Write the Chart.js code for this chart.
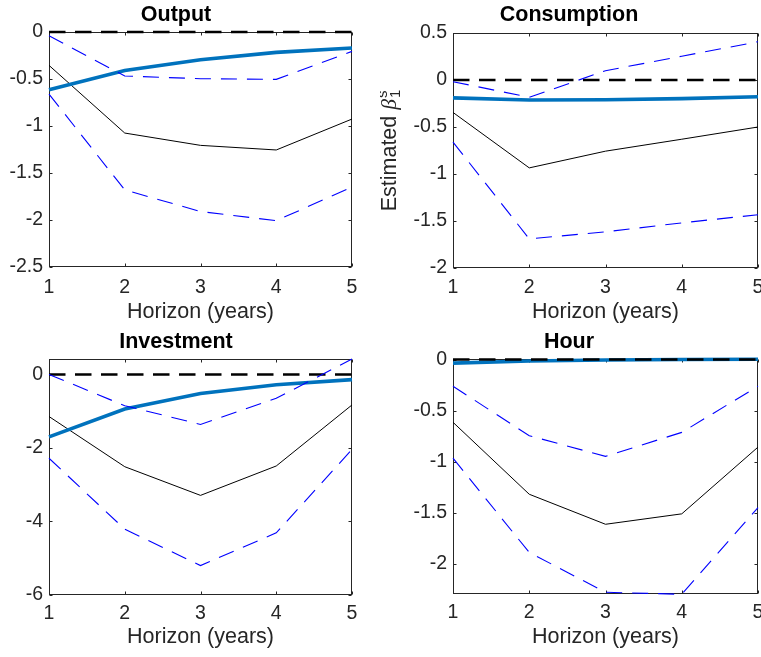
<!DOCTYPE html>
<html>
<head>
<meta charset="utf-8">
<script src="https://cdn.jsdelivr.net/npm/chart.js@4.4.1/dist/chart.umd.min.js"></script>
<style>
  html, body { margin: 0; padding: 0; background: #ffffff; }
  body { position: relative; width: 761px; height: 657px; overflow: hidden; }
  canvas { position: absolute; }
</style>
</head>
<body>
<canvas id="cOutput"></canvas>
<canvas id="cConsumption"></canvas>
<canvas id="cInvestment"></canvas>
<canvas id="cHour"></canvas>
<script>
// Horizon in years (x axis) and the zero reference line
const horizons = [1, 2, 3, 4, 5];
const zeroLine = [0, 0, 0, 0, 0];

// Output
const outputEstimate = [-0.355, -1.075, -1.206, -1.255, -0.926];
const outputUpper    = [-0.04, -0.468, -0.497, -0.504, -0.206];
const outputLower    = [-0.66, -1.68, -1.91, -2.007, -1.65];
const outputModel    = [-0.614, -0.41, -0.295, -0.217, -0.17];
const outputTicks    = [-2.5, -2, -1.5, -1, -0.5, 0];

// Consumption
const consumptionEstimate = [-0.345, -0.935, -0.757, -0.63, -0.50];
const consumptionUpper    = [-0.018, -0.184, 0.099, 0.253, 0.407];
const consumptionLower    = [-0.66, -1.69, -1.615, -1.52, -1.433];
const consumptionModel    = [-0.19, -0.213, -0.21, -0.198, -0.178];
const consumptionTicks    = [-2, -1.5, -1, -0.5, 0, 0.5];

// Investment
const investmentEstimate = [-1.145, -2.51, -3.29, -2.49, -0.83];
const investmentUpper    = [0.0, -0.85, -1.36, -0.65, 0.42];
const investmentLower    = [-2.28, -4.21, -5.2, -4.31, -2.04];
const investmentModel    = [-1.70, -0.94, -0.52, -0.28, -0.14];
const investmentTicks    = [-6, -4, -2, 0];

// Hour
const hourEstimate = [-0.615, -1.32, -1.614, -1.512, -0.858];
const hourUpper    = [-0.262, -0.746, -0.949, -0.714, -0.262];
const hourLower    = [-0.966, -1.89, -2.28, -2.30, -1.45];
const hourModel    = [-0.035, -0.015, -0.005, 0.0, 0.003];
const hourTicks    = [-2, -1.5, -1, -0.5, 0];

const TICK_FONT = { family: '"Liberation Sans", Arial, sans-serif', size: 19.5 };
const LABEL_FONT = { family: '"Liberation Sans", Arial, sans-serif', size: 21.5 };
const TITLE_FONT = { family: '"Liberation Sans", Arial, sans-serif', size: 21.5, weight: 'bold' };
const AXIS_COLOR = '#262626';

const toPoints = (ys) => horizons.map((h, i) => ({ x: h, y: ys[i] }));
const fmt = (v) => {
  const r = Math.round(v * 10) / 10;
  return (Object.is(r, -0) ? 0 : r).toString();
};

// Axes box with inward tick marks on all four sides
const axesFrame = {
  id: 'axesFrame',
  beforeDatasetsDraw(chart) {
    const { ctx, chartArea: a, scales: { x, y } } = chart;
    const L = Math.round(a.left) + 0.5, R = Math.round(a.right) - 0.5;
    const T = Math.round(a.top) + 0.5, B = Math.round(a.bottom) - 0.5;
    const len = 3;
    ctx.save();
    ctx.strokeStyle = AXIS_COLOR;
    ctx.lineWidth = 1;
    ctx.strokeRect(L, T, R - L, B - T);
    ctx.beginPath();
    y.ticks.forEach(t => {
      const p = Math.round(y.getPixelForValue(t.value)) + 0.5;
      ctx.moveTo(L, p); ctx.lineTo(L + len, p);
      ctx.moveTo(R, p); ctx.lineTo(R - len, p);
    });
    x.ticks.forEach(t => {
      const p = Math.round(x.getPixelForValue(t.value)) + 0.5;
      ctx.moveTo(p, B); ctx.lineTo(p, B - len);
      ctx.moveTo(p, T); ctx.lineTo(p, T + len);
    });
    ctx.stroke();
    ctx.restore();
  }
};

// Rotated y label with a Greek symbol and stacked super/subscript
const betaLabel = {
  id: 'betaLabel',
  afterDraw(chart, args, opts) {
    if (!opts || !opts.show) return;
    const ctx = chart.ctx;
    ctx.save();
    ctx.fillStyle = AXIS_COLOR;
    ctx.textBaseline = 'alphabetic';
    ctx.textAlign = 'left';
    const main = 'Estimated ';
    ctx.font = '21.5px "Liberation Sans", Arial, sans-serif';
    const wMain = ctx.measureText(main).width;
    ctx.font = 'italic 21.5px "Liberation Serif", "DejaVu Serif", serif';
    const wBeta = ctx.measureText('\u03B2').width;
    ctx.font = '15px "Liberation Sans", Arial, sans-serif';
    const wScript = Math.max(ctx.measureText('s').width, ctx.measureText('1').width);
    const total = wMain + wBeta + 1 + wScript;
    ctx.translate(opts.baselineX, opts.centerY + total / 2);
    ctx.rotate(-Math.PI / 2);
    ctx.font = '21.5px "Liberation Sans", Arial, sans-serif';
    ctx.fillText(main, 0, 0);
    ctx.font = 'italic 21.5px "Liberation Serif", "DejaVu Serif", serif';
    ctx.fillText('\u03B2', wMain, 0);
    ctx.font = '15px "Liberation Sans", Arial, sans-serif';
    ctx.fillText('s', wMain + wBeta + 1, -9);
    ctx.fillText('1', wMain + wBeta + 1, 4);
    ctx.restore();
  }
};

function makePanel(p) {
  const el = document.getElementById(p.id);
  el.width = p.w; el.height = p.h;
  el.style.left = p.left + 'px';
  el.style.top = p.top + 'px';
  el.style.width = p.w + 'px';
  el.style.height = p.h + 'px';

  const datasets = [
    { data: toPoints(p.estimate), borderColor: '#000000', borderWidth: 1, order: 3 },
    { data: toPoints(p.model), borderColor: '#0072BD', borderWidth: 3.6, order: 2 },
    { data: toPoints(zeroLine), borderColor: '#000000', borderWidth: 2.6, borderDash: [16.5, 9.5], order: 1 },
    { data: toPoints(p.upper), borderColor: '#0000FF', borderWidth: 1.1, borderDash: [16, 10], order: 0 },
    { data: toPoints(p.lower), borderColor: '#0000FF', borderWidth: 1.1, borderDash: [16, 10], order: 0 }
  ];
  datasets.forEach(d => { d.clip = false; });

  return new Chart(el, {
    type: 'line',
    data: { datasets },
    plugins: [axesFrame, betaLabel],
    options: {
      responsive: false,
      animation: false,
      devicePixelRatio: 1,
      layout: { padding: { left: 0, right: p.w - p.area.r, top: 0, bottom: 0 } },
      elements: { point: { radius: 0, hoverRadius: 0 }, line: { tension: 0, fill: false } },
      plugins: {
        legend: { display: false },
        tooltip: { enabled: false },
        title: {
          display: true, text: p.title, color: '#000000', font: TITLE_FONT,
          padding: { top: p.titlePad[0], bottom: p.titlePad[1] }
        },
        betaLabel: p.betaLabel || { show: false }
      },
      scales: {
        x: {
          type: 'linear', min: 1, max: 5,
          afterBuildTicks: (s) => { s.ticks = horizons.map(v => ({ value: v })); },
          afterFit: (s) => { s.height = p.h - p.area.b; },
          grid: { display: false, drawTicks: false },
          border: { display: false },
          ticks: { color: AXIS_COLOR, font: TICK_FONT, padding: p.xTickPad, maxRotation: 0, autoSkip: false, callback: (v) => String(v) },
          title: { display: true, text: 'Horizon (years)', color: AXIS_COLOR, font: LABEL_FONT, padding: { top: 0, bottom: p.xTitlePad } }
        },
        y: {
          type: 'linear', min: p.yMin, max: p.yMax,
          afterBuildTicks: (s) => { s.ticks = p.ticks.map(v => ({ value: v })); },
          afterFit: (s) => { s.width = p.area.l; },
          grid: { display: false, drawTicks: false },
          border: { display: false },
          ticks: { color: AXIS_COLOR, font: TICK_FONT, padding: 6, autoSkip: false, callback: fmt }
        }
      }
    }
  });
}

makePanel({
  id: 'cOutput', left: 0, top: 0, w: 401, h: 325,
  area: { l: 49, r: 352, b: 267 }, titlePad: [2.6, 3.6], xTickPad: 8.8, xTitlePad: 0.4,
  title: 'Output', yMin: -2.5, yMax: 0, ticks: outputTicks,
  estimate: outputEstimate, upper: outputUpper, lower: outputLower, model: outputModel
});

makePanel({
  id: 'cConsumption', left: 380, top: 0, w: 451, h: 325,
  area: { l: 73, r: 378, b: 268 }, titlePad: [2.6, 4.6], xTickPad: 7.8, xTitlePad: 0.4,
  title: 'Consumption', yMin: -2, yMax: 0.5, ticks: consumptionTicks,
  estimate: consumptionEstimate, upper: consumptionUpper, lower: consumptionLower, model: consumptionModel,
  betaLabel: { show: true, baselineX: 16, centerY: 150.5 }
});

makePanel({
  id: 'cInvestment', left: 0, top: 325, w: 401, h: 332,
  area: { l: 49, r: 352, b: 270 }, titlePad: [4.3, 3.9], xTickPad: 6.8, xTitlePad: 7.4,
  title: 'Investment', yMin: -6, yMax: 0.42, ticks: investmentTicks,
  estimate: investmentEstimate, upper: investmentUpper, lower: investmentLower, model: investmentModel
});

makePanel({
  id: 'cHour', left: 380, top: 325, w: 451, h: 332,
  area: { l: 73, r: 378, b: 269.3 }, titlePad: [4.3, 3.9], xTickPad: 6.5, xTitlePad: 7.4,
  title: 'Hour', yMin: -2.3, yMax: 0.005, ticks: hourTicks,
  estimate: hourEstimate, upper: hourUpper, lower: hourLower, model: hourModel
});
</script>
</body>
</html>
